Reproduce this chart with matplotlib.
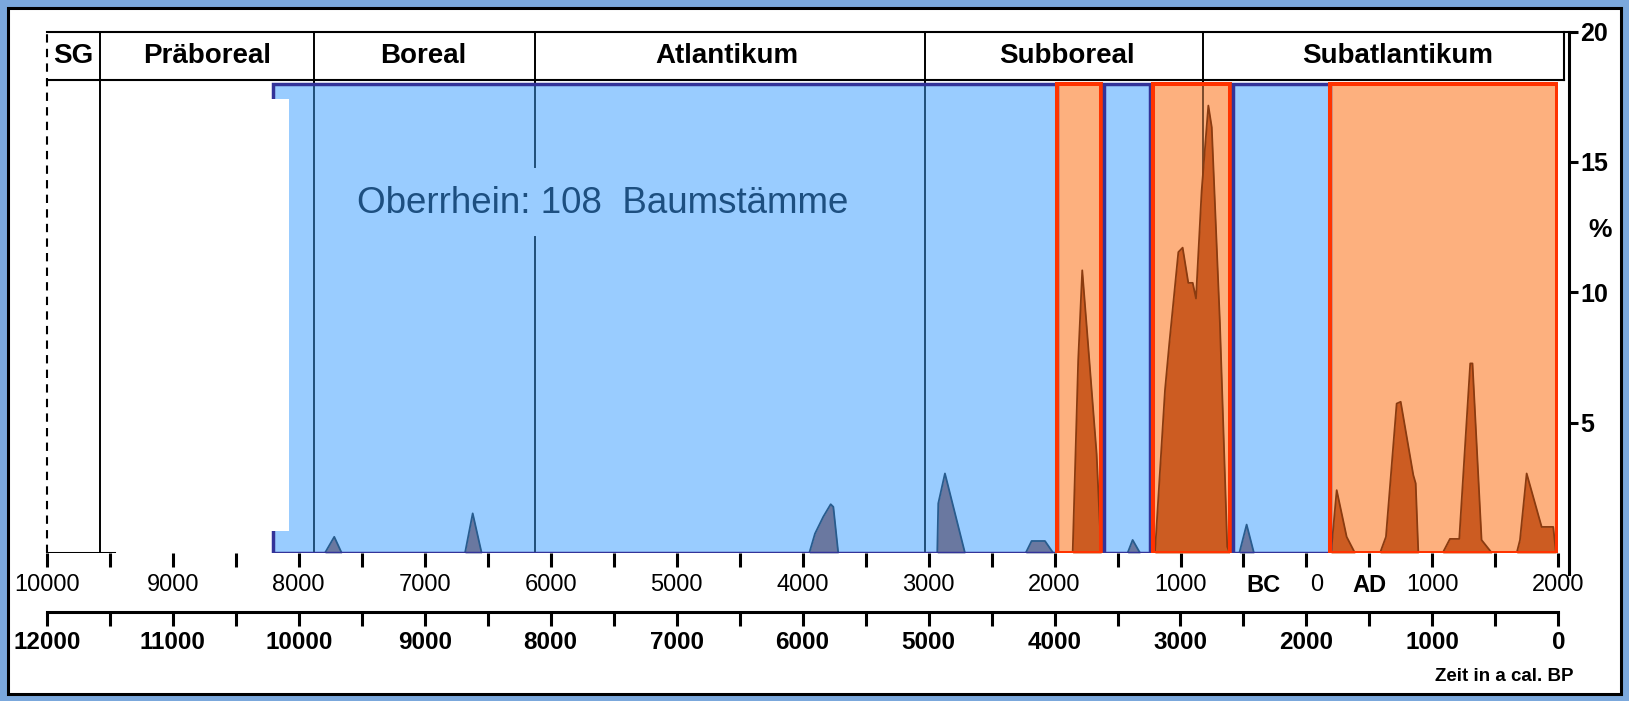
import numpy as np
import matplotlib.pyplot as plt
from matplotlib.patches import Rectangle
from matplotlib.transforms import ScaledTranslation

plt.rcParams['font.family'] = ['Liberation Sans', 'DejaVu Sans']

# -------------------------------
# DATA
# -------------------------------
# header periods (years BC negative / AD positive)
period_names = ["SG", "Präboreal", "Boreal", "Atlantikum", "Subboreal", "Subatlantikum"]
period_label_x = [-9790, -8727, -7010, -4600, -1905, 720]
period_bounds = [-9580, -7875, -6125, -3030, -820]

# shaded boxes (blue = few trunks, red = many trunks)
box_start = [-8205, -1980, -1605, -1215, -580, 185]
box_end = [-1980, -1635, -1240, -605, 185, 1990]
box_kind = ['blue', 'red', 'blue', 'red', 'blue', 'red']
box_top = 17.97

# frequency curve in %
years = [-8205,
         -7792, -7718, -7659,
         -6680, -6619, -6548,
         -3947, -3902, -3836, -3777, -3756, -3717,
         -2931, -2923, -2870, -2711,
         -2229, -2182, -2076, -2010,
         -1856, -1812, -1780, -1745, -1666, -1630,
         -1420, -1380, -1321,
         -1203, -1123, -1089, -1017, -983, -938, -903, -877, -832, -779, -752, -687, -629, -610,
         -533, -475, -417,
         195, 240, 319, 385,
         584, 631, 716, 748, 848, 867, 888,
         1081, 1139, 1213, 1300, 1318, 1390, 1472,
         1669, 1695, 1748, 1867, 1959, 1981, 1990]
percent = [0,
           0, 0.62, 0,
           0, 1.52, 0,
           0, 0.74, 1.39, 1.87, 1.77, 0,
           0, 1.9, 3.05, 0,
           0, 0.46, 0.46, 0,
           0, 7.4, 10.84, 8.7, 3.8, 0,
           0, 0.5, 0,
           0, 6.25, 8.03, 11.54, 11.71, 10.36, 10.36, 9.76, 13.9, 17.16, 16.33, 8.8, 0.24, 0,
           0, 1.09, 0,
           0, 2.41, 0.62, 0,
           0, 0.62, 5.73, 5.8, 2.99, 2.67, 0,
           0, 0.54, 0.54, 7.27, 7.27, 0.5, 0,
           0, 0.5, 3.05, 1.0, 1.0, 0, 0]

# axes ticks
ad_ticks = list(range(-10000, 2001, 500))
ad_labels = []
for t in ad_ticks:
    if t < -500 and t % 1000 == 0:
        ad_labels.append(str(-t))
    elif t == -500:
        ad_labels.append("BC")
    elif t == 0:
        ad_labels.append("0")
    elif t == 500:
        ad_labels.append("AD")
    elif t in (1000, 2000):
        ad_labels.append(str(t))
    else:
        ad_labels.append("")
bp_ticks = list(range(0, 12001, 500))
bp_labels = [str(t) if t % 1000 == 0 else "" for t in bp_ticks]
pct_ticks = [5, 10, 15, 20]

# -------------------------------
# COLORS
# -------------------------------
blue_fill = '#99ccff'
blue_edge = '#333399'
red_fill = '#fdb07e'
red_edge = '#ff3300'
blue_peak = '#6a78a0'
blue_peak_edge = '#285c8e'
red_peak = '#cc5c22'
red_peak_edge = '#8a3b10'
line_blue = '#1f4e79'

# -------------------------------
# FIGURE
# -------------------------------
W, H = 1629, 701
fig = plt.figure(figsize=(W / 100, H / 100), dpi=100)
fig.patch.set_facecolor('#7ba8dc')
fig.add_artist(Rectangle((8 / W, 7 / H), (1621 - 8) / W, (694 - 8) / H,
                         transform=fig.transFigure, facecolor='white',
                         edgecolor='black', linewidth=2.2, zorder=0))

x0, x1 = 46.8, 1558.4
y0, y1 = 553, 31.5
ax = fig.add_axes([x0 / W, (H - y0) / H, (x1 - x0) / W, (y0 - y1) / H])
ax.set_facecolor('none')
ax.set_xlim(-10000, 2000)
ax.set_ylim(0, 20)

# boxes + curve
for s, e, k in zip(box_start, box_end, box_kind):
    fc = blue_fill if k == 'blue' else red_fill
    bg = Rectangle((s, 0), e - s, box_top, facecolor=fc, edgecolor='none', zorder=1)
    ax.add_patch(bg)
    pf = blue_peak if k == 'blue' else red_peak
    pe = blue_peak_edge if k == 'blue' else red_peak_edge
    f = ax.fill_between(years, percent, 0, color=pf, linewidth=0, zorder=3)
    f.set_clip_path(bg)
    ln, = ax.plot(years, percent, color=pe, linewidth=1.3, zorder=3.5)
    ln.set_clip_path(bg)
for s, e, k in zip(box_start, box_end, box_kind):
    ec = blue_edge if k == 'blue' else red_edge
    lw = 2.5 if k == 'blue' else 2.9
    ax.add_patch(Rectangle((s, 0), e - s, box_top, fill=False, edgecolor=ec,
                           linewidth=lw, zorder=4))

# white patch over left box edge
ax.add_patch(Rectangle((-8240, 0.84), 163, 17.43 - 0.84, facecolor='white',
                       edgecolor='none', zorder=5))

# header box
y_axis_x = 2085
hdr_bottom = 18.15
hdr_right = 2045
ax.plot([-10000, y_axis_x], [20, 20], color='black', lw=1.5, clip_on=False, zorder=6)
ax.plot([-10000, hdr_right], [hdr_bottom, hdr_bottom], color='black', lw=1.5,
        clip_on=False, zorder=6)
ax.plot([hdr_right, hdr_right], [hdr_bottom, 20], color='black', lw=1.5,
        clip_on=False, zorder=6)
ax.plot([-10000, -10000], [0, 20], color='black', lw=1.5, linestyle=(0, (4, 3)),
        clip_on=False, zorder=6)
for name, px in zip(period_names, period_label_x):
    ax.text(px, 19.07, name, ha='center', va='center', fontsize=20,
            fontweight='bold', zorder=7)

# period boundaries
for i, b in enumerate(period_bounds):
    if i == 0:
        ax.plot([b, b], [0, 20], color='black', lw=1.4, zorder=2)
        continue
    ax.plot([b, b], [box_top, 20], color='black', lw=1.4, zorder=2)
    c = '#7a4a2a' if b == -820 else line_blue
    if b == -6125:
        ax.plot([b, b], [0, 12.1], color=c, lw=1.4, zorder=2)
        ax.plot([b, b], [14.8, box_top], color=c, lw=1.4, zorder=2)
    else:
        ax.plot([b, b], [0, box_top], color=c, lw=1.4, zorder=2)

# zero line on the left
ax.plot([-10000, -9470], [0, 0], color='black', lw=2.2, zorder=6)

ax.text(-7537, 13.41, "Oberrhein: 108  Baumstämme", ha='left', va='center',
        fontsize=26.5, color='#1d4f80', zorder=7)

# upper x axis (BC / AD)
for side in ['left', 'top', 'bottom']:
    ax.spines[side].set_visible(False)
ax.set_xticks(ad_ticks, ad_labels)
ax.tick_params(axis='x', direction='out', length=10, width=2.2, pad=5,
               labelsize=17)
for lab in ax.get_xticklabels():
    if lab.get_text() in ("BC", "AD"):
        lab.set_fontweight('bold')
    if lab.get_text() == "BC":
        lab.set_transform(lab.get_transform() + ScaledTranslation(0.2, 0, fig.dpi_scale_trans))
    if lab.get_text() == "0":
        lab.set_transform(lab.get_transform() + ScaledTranslation(0.1, 0, fig.dpi_scale_trans))

# right % axis
ax.yaxis.tick_right()
ax.spines['right'].set_position(('data', y_axis_x))
ax.spines['right'].set_linewidth(2.2)
ax.spines['right'].set_bounds(-0.8, 20)
ax.set_yticks(pct_ticks, [str(t) for t in pct_ticks])
ax.tick_params(axis='y', direction='out', length=6.5, width=2.2, pad=1.5,
               labelsize=18)
for lab in ax.get_yticklabels():
    lab.set_fontweight('bold')
ax.text(2330, 12.4, "%", ha='center', va='center', fontsize=19,
        fontweight='bold', clip_on=False)

# lower x axis (cal. BP)
sec = ax.secondary_xaxis(-0.1131, functions=(lambda x: 2000 - x, lambda x: 2000 - x))
sec.set_xticks(bp_ticks, bp_labels)
sec.spines['bottom'].set_linewidth(2.2)
sec.tick_params(axis='x', direction='out', length=10, width=2.2, pad=3.5,
                labelsize=17.5)
for lab in sec.get_xticklabels():
    lab.set_fontweight('bold')

ax.text(2123, -4.75, "Zeit in a cal. BP", ha='right', va='center',
        fontsize=13.5, fontweight='bold', clip_on=False)

fig.savefig("out.png", dpi=100, facecolor=fig.get_facecolor())
